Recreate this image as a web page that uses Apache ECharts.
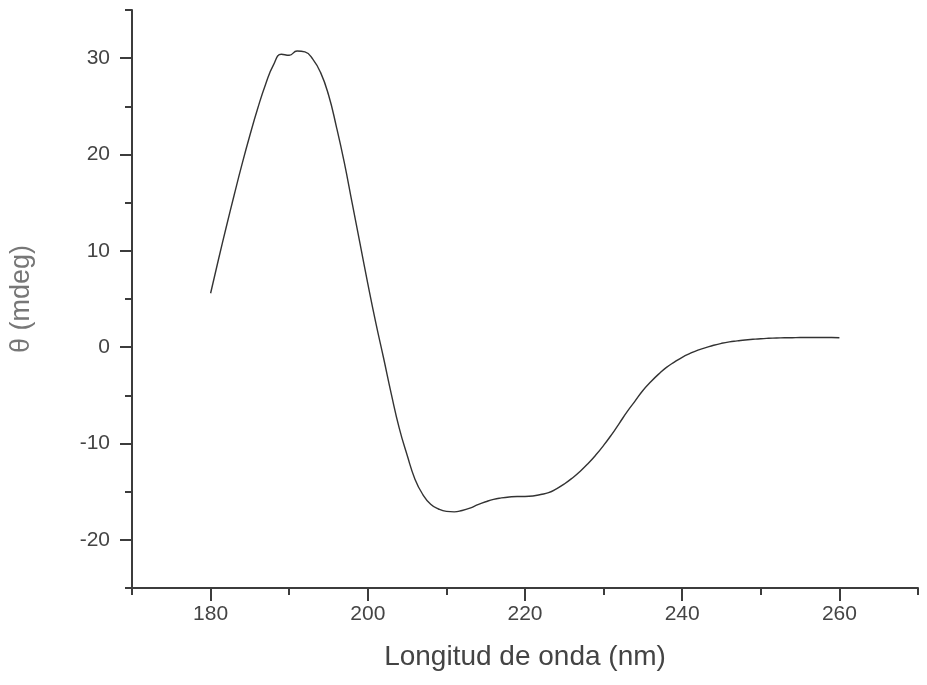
<!DOCTYPE html>
<html>
<head>
<meta charset="utf-8">
<script src="https://cdn.jsdelivr.net/npm/echarts@6/dist/echarts.min.js"></script>
<style>
html,body{margin:0;padding:0;background:#fff;}
#c{width:927px;height:685px;}
</style>
</head>
<body>
<div id="c"></div>
<script>
// Wavelength (nm)
var wavelengths = [180,181,182,183,184,185,186,187,188,189,190,191,192,193,194,195,196,197,198,199,
  200,201,202,203,204,205,206,207,208,209,210,211,212,213,214,215,216,217,218,219,
  220,221,222,223,224,225,226,227,228,229,230,231,232,233,234,235,236,237,238,239,
  240,241,242,243,244,245,246,247,248,249,250,251,252,253,254,255,256,257,258,259,260];
// Ellipticity θ (mdeg)
var theta = [5.6,9.1,12.5,15.8,19.0,22.0,24.8,27.3,29.3,30.4,30.3,30.75,30.65,29.9,28.5,26.2,22.9,19.2,15.0,10.8,
  6.6,2.6,-1.1,-4.9,-8.4,-11.2,-13.7,-15.3,-16.3,-16.8,-17.05,-17.1,-16.95,-16.7,-16.35,-16.05,-15.8,-15.65,-15.55,-15.5,
  -15.5,-15.45,-15.3,-15.1,-14.7,-14.2,-13.6,-12.9,-12.1,-11.2,-10.2,-9.1,-7.9,-6.7,-5.6,-4.5,-3.6,-2.8,-2.1,-1.55,
  -1.05,-0.65,-0.3,-0.05,0.2,0.4,0.55,0.65,0.75,0.82,0.88,0.92,0.95,0.97,0.98,1.0,1.0,1.0,1.0,1.0,0.97];
var xTickLabels = [180,200,220,240,260];
var yTickLabels = [-20,-10,0,10,20,30];

var xMin = 170, xMax = 270, yMin = -25, yMax = 35;
var L = 132, T = 10, W = 786, H = 578;
var pxX = W / (xMax - xMin), pxY = H / (yMax - yMin);
var axisColor = '#3c3c3c';
var labelFont = 'Liberation Sans, Arial, sans-serif';

var chart = echarts.init(document.getElementById('c'), null, {renderer: 'canvas'});
chart.setOption({
  backgroundColor: '#ffffff',
  animation: false,
  grid: [
    {left: L, top: T, width: W, height: H},
    {left: L + (xTickLabels[0] - xMin) * pxX, top: T, width: (xTickLabels[xTickLabels.length-1] - xTickLabels[0]) * pxX, height: H},
    {left: L, top: T + (yMax - yTickLabels[yTickLabels.length-1]) * pxY, width: W, height: (yTickLabels[yTickLabels.length-1] - yTickLabels[0]) * pxY}
  ],
  xAxis: [
    {
      gridIndex: 0, type: 'value', min: xMin, max: xMax, interval: 10,
      axisLine: {show: true, onZero: false, lineStyle: {color: axisColor, width: 2}},
      axisTick: {show: true, length: 7, lineStyle: {color: axisColor, width: 2}},
      axisLabel: {show: false},
      splitLine: {show: false},
      name: 'Longitud de onda (nm)', nameLocation: 'middle', nameGap: 55,
      nameTextStyle: {fontFamily: labelFont, fontSize: 28, color: '#444'}
    },
    {
      gridIndex: 1, type: 'value', min: xTickLabels[0], max: xTickLabels[xTickLabels.length-1], interval: 20,
      axisLine: {show: false, onZero: false},
      axisTick: {show: true, length: 13, lineStyle: {color: axisColor, width: 2}},
      axisLabel: {show: true, margin: 16, fontFamily: labelFont, fontSize: 21, color: '#444'},
      splitLine: {show: false}
    },
    {
      gridIndex: 2, type: 'value', min: xMin, max: xMax, show: false
    }
  ],
  yAxis: [
    {
      gridIndex: 0, type: 'value', min: yMin, max: yMax, interval: 5,
      axisLine: {show: true, onZero: false, lineStyle: {color: axisColor, width: 2}},
      axisTick: {show: true, length: 7, lineStyle: {color: axisColor, width: 2}},
      axisLabel: {show: false},
      splitLine: {show: false},
      name: 'θ (mdeg)', nameLocation: 'middle', nameGap: 97, nameRotate: 90,
      nameTextStyle: {fontFamily: labelFont, fontSize: 27, color: '#777'}
    },
    {
      gridIndex: 1, type: 'value', min: 0, max: 1, show: false
    },
    {
      gridIndex: 2, type: 'value', min: yTickLabels[0], max: yTickLabels[yTickLabels.length-1], interval: 10,
      axisLine: {show: false, onZero: false},
      axisTick: {show: true, length: 12, lineStyle: {color: axisColor, width: 2}},
      axisLabel: {show: true, margin: 22, fontFamily: labelFont, fontSize: 21, color: '#444'},
      splitLine: {show: false}
    }
  ],
  series: [{
    type: 'line',
    xAxisIndex: 0, yAxisIndex: 0,
    data: wavelengths.map(function (w, i) { return [w, theta[i]]; }),
    showSymbol: false,
    symbol: 'none',
    smooth: 0.5,
    lineStyle: {color: '#333', width: 1.4},
    clip: false
  }]
});
</script>
</body>
</html>
